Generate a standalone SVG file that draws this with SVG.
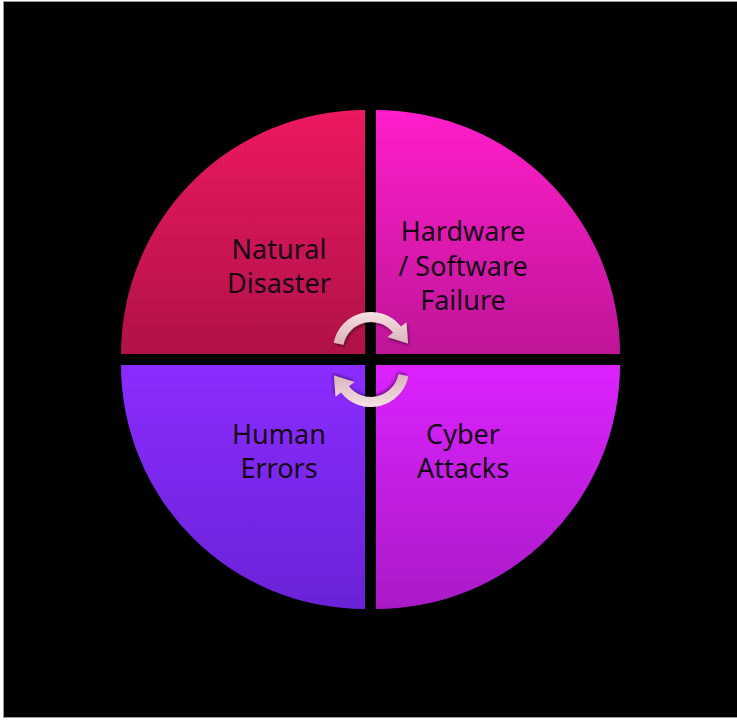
<svg xmlns="http://www.w3.org/2000/svg" width="737" height="720" viewBox="0 0 737 720">
  <defs>
    <linearGradient id="gTL" x1="0" y1="0" x2="0" y2="1">
      <stop offset="0" stop-color="#ec1862"/>
      <stop offset="1" stop-color="#b01248"/>
    </linearGradient>
    <linearGradient id="gTR" x1="0" y1="0" x2="0" y2="1">
      <stop offset="0" stop-color="#ff1ecb"/>
      <stop offset="1" stop-color="#bf1598"/>
    </linearGradient>
    <linearGradient id="gBL" x1="0" y1="0" x2="0" y2="1">
      <stop offset="0" stop-color="#8b2cff"/>
      <stop offset="1" stop-color="#6a22d6"/>
    </linearGradient>
    <linearGradient id="gBR" x1="0" y1="0" x2="0" y2="1">
      <stop offset="0" stop-color="#dc22ff"/>
      <stop offset="1" stop-color="#a91ac6"/>
    </linearGradient>
    <linearGradient id="gArrow" x1="0" y1="0" x2="0" y2="1">
      <stop offset="0" stop-color="#f6e0e3"/>
      <stop offset="1" stop-color="#d9b3ba"/>
    </linearGradient>
    <filter id="shadow" x="-20%" y="-20%" width="140%" height="140%">
      <feDropShadow dx="1" dy="2" stdDeviation="1.5" flood-color="#000" flood-opacity="0.45"/>
    </filter>
    <!-- curved arrow: 38/28 px band around (371,350) with a head at the right end -->
    <path id="cycleArrow" d="M 333.7,342.7 A 38 38 0 0 1 401.0,326.6 L 406.5,322.3 L 408.0,343.5 L 387.5,337.0 L 393.1,332.8 A 28 28 0 0 0 343.5,344.7 Z"/>
  </defs>
  <style>
    .label { font-family: "Noto Sans", "Liberation Sans", sans-serif; font-size: 27px; fill: #150815; text-anchor: middle; }
    .arrow { fill: url(#gArrow); filter: url(#shadow); }
  </style>

  <!-- page background and frame -->
  <rect x="0" y="0" width="737" height="720" fill="#ffffff"/>
  <rect x="3.5" y="1.5" width="740" height="716" fill="#000000" stroke="#9a9a9a" stroke-width="1"/>

  <!-- quadrant: top left -->
  <g id="natural-disaster">
    <path d="M 365,354 L 121,354 A 244 244 0 0 1 365,110 Z" fill="url(#gTL)"/>
    <text class="label" x="279" y="259">Natural</text>
    <text class="label" x="279" y="293">Disaster</text>
  </g>

  <!-- quadrant: top right -->
  <g id="hardware-software-failure">
    <path d="M 376,354 L 376,110 A 244 244 0 0 1 620,354 Z" fill="url(#gTR)"/>
    <text class="label" x="463" y="241">Hardware</text>
    <text class="label" x="463" y="276">/ Software</text>
    <text class="label" x="463" y="310">Failure</text>
  </g>

  <!-- quadrant: bottom left -->
  <g id="human-errors">
    <path d="M 365,365 L 365,609 A 244 244 0 0 1 121,365 Z" fill="url(#gBL)"/>
    <text class="label" x="279" y="444">Human</text>
    <text class="label" x="279" y="478">Errors</text>
  </g>

  <!-- quadrant: bottom right -->
  <g id="cyber-attacks">
    <path d="M 376,365 L 620,365 A 244 244 0 0 1 376,609 Z" fill="url(#gBR)"/>
    <text class="label" x="463" y="444">Cyber</text>
    <text class="label" x="463" y="478">Attacks</text>
  </g>

  <!-- circular arrows at the centre -->
  <g id="connectors">
    <use href="#cycleArrow" class="arrow"/>
    <use href="#cycleArrow" class="arrow" transform="rotate(180 371 359.5)"/>
  </g>
</svg>
